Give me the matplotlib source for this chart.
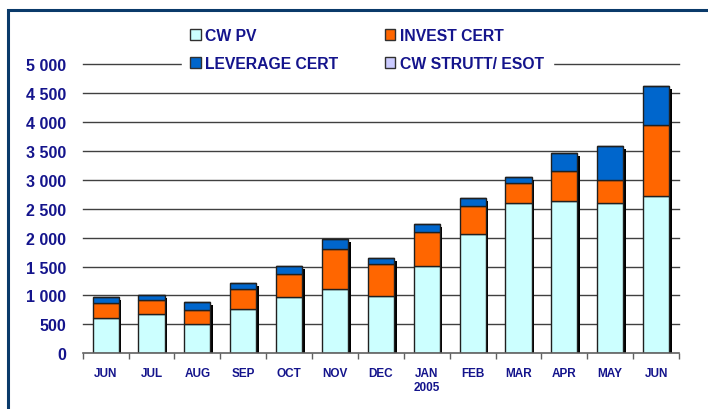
import matplotlib.pyplot as plt
from matplotlib.patches import Patch, Rectangle
from matplotlib.transforms import ScaledTranslation

# Dati
months = ['JUN', 'JUL', 'AUG', 'SEP', 'OCT', 'NOV', 'DEC', 'JAN\n2005',
          'FEB', 'MAR', 'APR', 'MAY', 'JUN']
cw_pv = [616, 675, 507, 772, 974, 1107, 997, 1516, 2064, 2600, 2640, 2595, 2716]
invest_cert = [254, 247, 242, 346, 393, 698, 543, 577, 484, 346, 519, 403, 1234]
leverage_cert = [99, 92, 133, 93, 149, 167, 104, 150, 134, 109, 301, 589, 663]
cw_strutt = [0, 0, 0, 0, 0, 0, 0, 0, 0, 0, 0, 0, 0]
y_ticks = [0, 500, 1000, 1500, 2000, 2500, 3000, 3500, 4000, 4500, 5000]

series = [('CW PV', cw_pv, '#CCFFFF'),
          ('INVEST CERT', invest_cert, '#FF6600'),
          ('LEVERAGE CERT', leverage_cert, '#0066CC'),
          ('CW STRUTT/ ESOT', cw_strutt, '#CCCCFF')]

navy = '#14148C'
plt.rcParams['font.family'] = ['Liberation Sans', 'DejaVu Sans']
plt.rcParams['font.weight'] = 'bold'

fig = plt.figure(figsize=(7.08, 4.10), dpi=100)
ax = fig.add_axes([82.7 / 708, 1 - 354.3 / 410, (679 - 82.7) / 708, (354.3 - 65) / 410])

x = list(range(len(months)))
totals = [a + b + c + d for a, b, c, d in zip(cw_pv, invest_cert, leverage_cert, cw_strutt)]

# ombra della colonna intera, spostata a destra e in basso
shift = ax.transData + ScaledTranslation(2.6 / 100, -3 / 100, fig.dpi_scale_trans)
ax.bar(x, totals, width=0.57, color='black', linewidth=0, transform=shift, zorder=2.5)

bottom = [0] * len(months)
for name, vals, col in series:
    ax.bar(x, vals, width=0.57, bottom=bottom, color=col, edgecolor='#202020',
           linewidth=1.0, zorder=3)
    bottom = [b + v for b, v in zip(bottom, vals)]

# griglia
for yt in y_ticks[1:]:
    ax.axhline(yt, color='#404040', linewidth=1.0, zorder=1, clip_on=False)

ax.set_xlim(-0.5, len(months) - 0.5)
ax.set_ylim(0, 5000)
ax.set_yticks(y_ticks)
ax.set_yticklabels([f'{v:,}'.replace(',', ' ') for v in y_ticks])
ax.set_xticks(x)
ax.set_xticklabels(months)
ax.set_xticks([i - 0.5 for i in range(len(months) + 1)], minor=True)
ax.tick_params(axis='x', which='major', length=0, pad=10, labelsize=8.5, labelcolor=navy)
ax.tick_params(axis='x', which='minor', length=4, color='#606060', width=1)
ax.tick_params(axis='y', length=0, pad=12, labelsize=11.5, labelcolor=navy)
for s in ['top', 'right', 'left']:
    ax.spines[s].set_visible(False)
ax.spines['bottom'].set_color('#606060')
ax.spines['bottom'].set_linewidth(1.2)
ax.spines['bottom'].set_zorder(4)

# legenda riempita per righe (matplotlib riempie per colonne)
handles = [Patch(facecolor=c, edgecolor='#303030', linewidth=1.0, label=n) for n, v, c in series]
handles = [handles[0], handles[2], handles[1], handles[3]]
leg = ax.legend(handles=handles, ncol=2, loc='center left',
                bbox_to_anchor=(174 / 708, 1 - 50.5 / 410), bbox_transform=fig.transFigure,
                frameon=True, fancybox=False, framealpha=1, edgecolor='white',
                fontsize=11.3, handlelength=0.65, handleheight=0.65, handletextpad=0.3,
                columnspacing=2.98, labelspacing=0.85, borderpad=0.55)
for t in leg.get_texts():
    t.set_color(navy)
leg.set_zorder(5)

# cornice
fig.add_artist(Rectangle((8 / 708, -0.1), 1.2, 1.1 - 11 / 410, transform=fig.transFigure,
                         fill=False, edgecolor='#0A3A6A', linewidth=2.2))

fig.savefig('out.png', dpi=100)
